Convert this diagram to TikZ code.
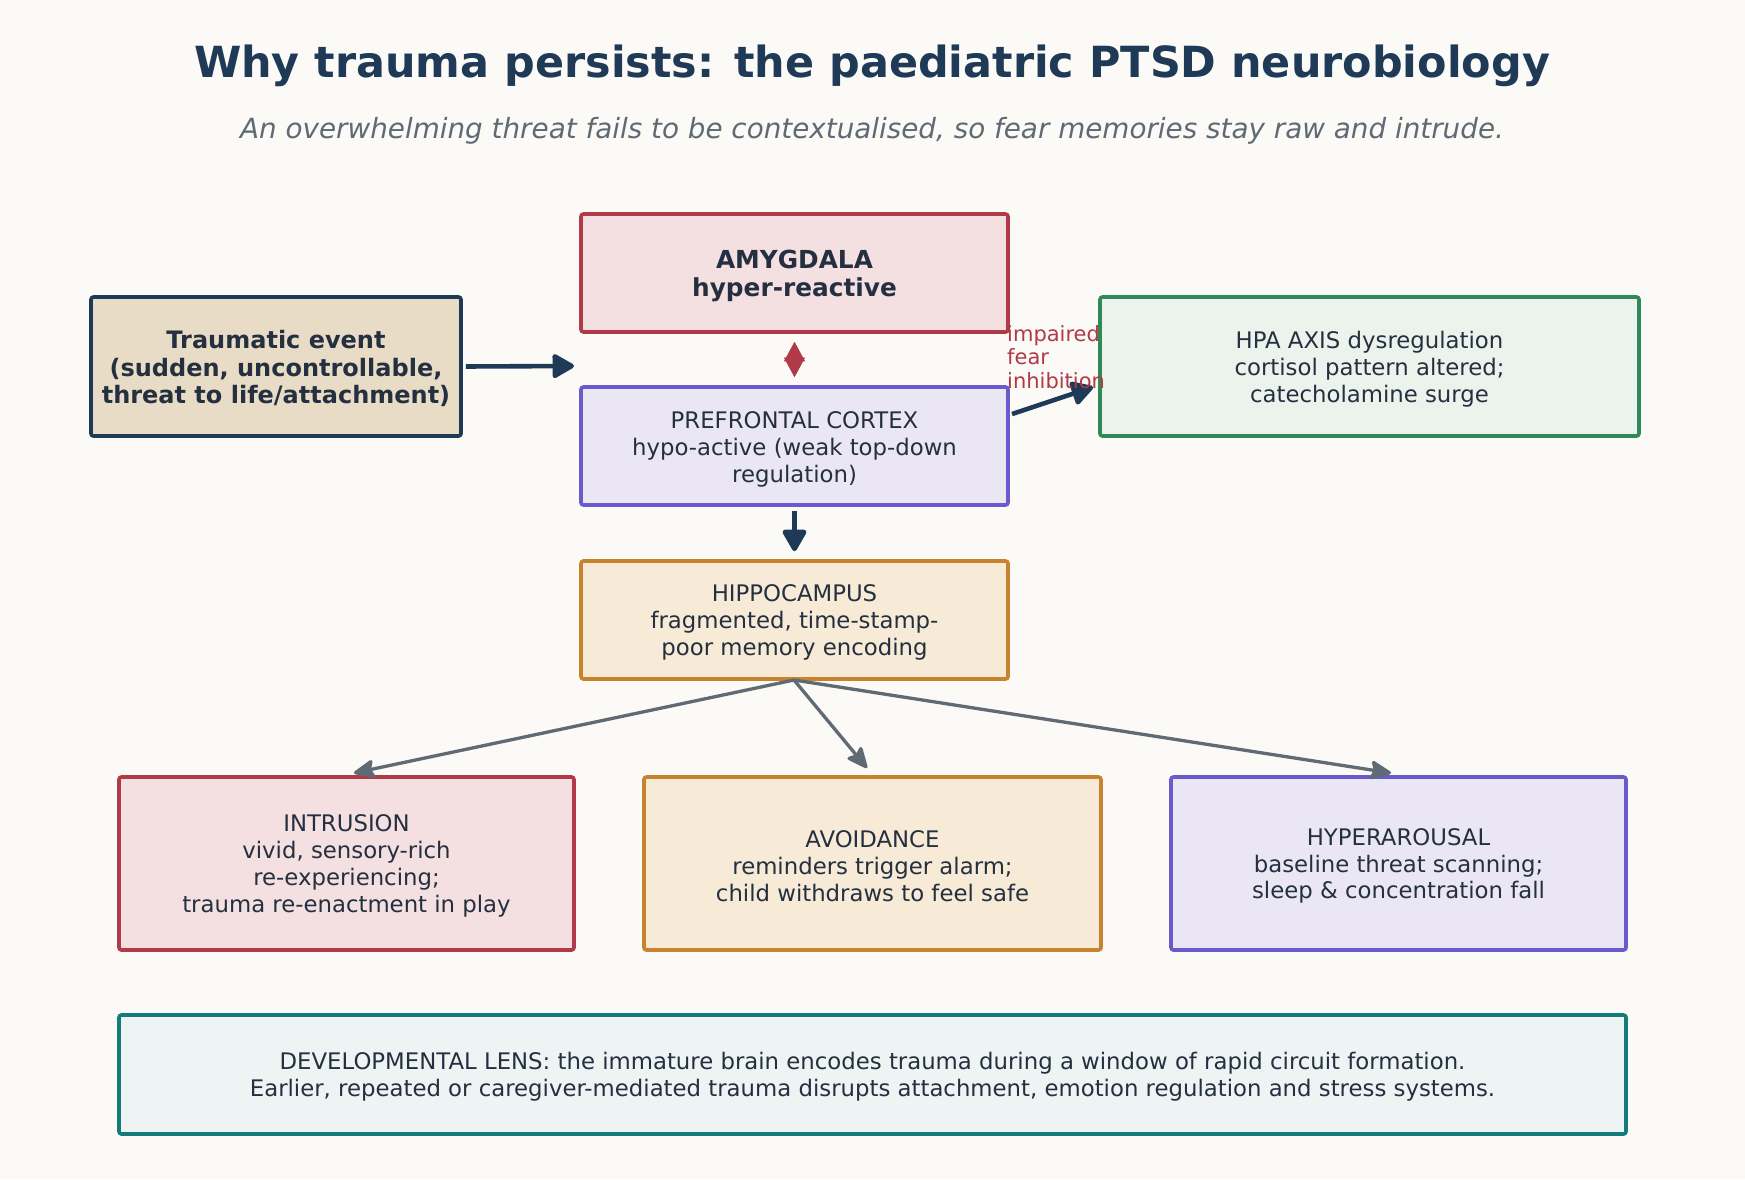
\documentclass[tikz,border=0pt]{standalone}
\usepackage{fontspec}
\setmainfont{DejaVu Sans}
\usetikzlibrary{arrows.meta}
\definecolor{bg}{HTML}{FBFAF7}
\definecolor{navy}{HTML}{1F3A56}
\definecolor{txt}{HTML}{243040}
\definecolor{subg}{HTML}{5F6A75}
\definecolor{redB}{HTML}{B03A48}\definecolor{redF}{HTML}{F4DFE1}
\definecolor{tanF}{HTML}{E8DCC6}
\definecolor{purB}{HTML}{6A5ACD}\definecolor{purF}{HTML}{EBE6F3}
\definecolor{grnB}{HTML}{2E8B57}\definecolor{grnF}{HTML}{ECF3EC}
\definecolor{orB}{HTML}{C8832F}\definecolor{orF}{HTML}{F7EAD6}
\definecolor{tealB}{HTML}{137C7A}\definecolor{tealF}{HTML}{EEF3F4}
\definecolor{grayA}{HTML}{5F6A75}
\tikzset{
  frame/.style={draw, line width=3.6pt, rounded corners=2.5pt, inner sep=0pt},
  btext/.style={align=center, text=txt, font=\fontsize{22.8}{26.8}\selectfont, inner sep=0pt},
  bbtext/.style={btext, font=\fontsize{24}{27.8}\selectfont\bfseries},
  navyarrow/.style={draw=navy, line width=4.6pt, -{Triangle[length=24pt,width=26pt,round]}},
  grayarrow/.style={draw=grayA, line width=3.3pt, -{Stealth[length=24pt,width=21pt,inset=4pt,round]}},
}
\begin{document}
\begin{tikzpicture}[x=1pt,y=-1pt]
\fill[bg] (0,0) rectangle (1745,1179);
\useasboundingbox (0,0) rectangle (1745,1179);
\node (title) at (872,66) {\fontsize{42.9}{50}\selectfont\bfseries\color{navy}Why trauma persists: the paediatric PTSD neurobiology};
\node (sub) at (872,131) {\fontsize{27.8}{32}\selectfont\itshape\color{subg}An overwhelming threat fails to be contextualised, so fear memories stay raw and intrude.};

\node[frame, draw=redB, fill=redF, minimum width=427pt, minimum height=118pt] (amy) at (794.5,273) {};
\node[bbtext, font=\fontsize{24.8}{28}\selectfont\bfseries] (amyT) at ([yshift=-3.3pt]amy.center) {AMYGDALA\\hyper-reactive};

\node[frame, draw=navy, fill=tanF, minimum width=370pt, minimum height=139pt] (trauma) at (276,366.5) {};
\node[bbtext] (traumaT) at ([yshift=-2pt]trauma.center) {Traumatic event\\(sudden, uncontrollable,\\threat to life/attachment)};

\node[frame, draw=grnB, fill=grnF, minimum width=539pt, minimum height=139pt] (hpa) at (1369.5,366.5) {};
\node[btext] (hpaT) at ([yshift=-2.5pt]hpa.center) {HPA AXIS dysregulation\\cortisol pattern altered;\\catecholamine surge};

\node[frame, draw=purB, fill=purF, minimum width=427pt, minimum height=118pt] (pfc) at (794.5,446) {};
\node[btext] (pfcT) at ([yshift=-3.2pt]pfc.center) {PREFRONTAL CORTEX\\hypo-active (weak top-down\\regulation)};

\node[frame, draw=orB, fill=orF, minimum width=427pt, minimum height=118pt] (hip) at (794.5,620) {};
\node[btext] (hipT) at ([yshift=-2.5pt]hip.center) {HIPPOCAMPUS\\fragmented, time-stamp-\\poor memory encoding};

\node[frame, draw=redB, fill=redF, minimum width=455pt, minimum height=173pt] (intr) at (346.5,863.5) {};
\node[btext] (intrT) at ([yshift=-2.5pt]intr.center) {INTRUSION\\vivid, sensory-rich\\re-experiencing;\\trauma re-enactment in play};

\node[frame, draw=orB, fill=orF, minimum width=457pt, minimum height=173pt] (avoid) at (872.5,863.5) {};
\node[btext] (avoidT) at ([yshift=-2.5pt]avoid.center) {AVOIDANCE\\reminders trigger alarm;\\child withdraws to feel safe};

\node[frame, draw=purB, fill=purF, minimum width=455pt, minimum height=173pt] (hyper) at (1398.5,863.5) {};
\node[btext] (hyperT) at ([yshift=-2.5pt]hyper.center) {HYPERAROUSAL\\baseline threat scanning;\\sleep \& concentration fall};

\node[frame, draw=tealB, fill=tealF, minimum width=1507pt, minimum height=119pt] (dev) at (872.5,1074.5) {};
\node[btext] (devT) at ([yshift=-2.5pt]dev.center) {DEVELOPMENTAL LENS: the immature brain encodes trauma during a window of rapid circuit formation.\\Earlier, repeated or caregiver-mediated trauma disrupts attachment, emotion regulation and stress systems.};

\coordinate (tEnd) at (574,366);
\draw[navyarrow, shorten <=3pt] (trauma.east) -- (tEnd);
\draw[draw=redB, line width=0.5pt, {Triangle[length=19.5pt,width=21pt]}-{Triangle[length=19.5pt,width=21pt]}, shorten <=8pt, shorten >=8pt, fill=redB] (amy.south) -- (pfc.north);
\coordinate (pfcOut) at (1012,414);
\coordinate (hpaIn) at (1093,387);
\draw[navyarrow] (pfcOut) -- (hpaIn);
\node[anchor=north west, align=left, text=redB, font=\fontsize{21}{23.5}\selectfont, inner sep=0pt] (lbl) at (1007,325) {impaired\\fear\\inhibition};
\draw[navyarrow, shorten <=4pt, shorten >=8pt] (pfc.south) -- (hip.north);
\coordinate (hipB) at (794,680);
\draw[grayarrow] (hipB) -- (354,773);
\draw[grayarrow] (hipB) -- (867,768);
\draw[grayarrow] (hipB) -- (1391,773);
\end{tikzpicture}
\end{document}
